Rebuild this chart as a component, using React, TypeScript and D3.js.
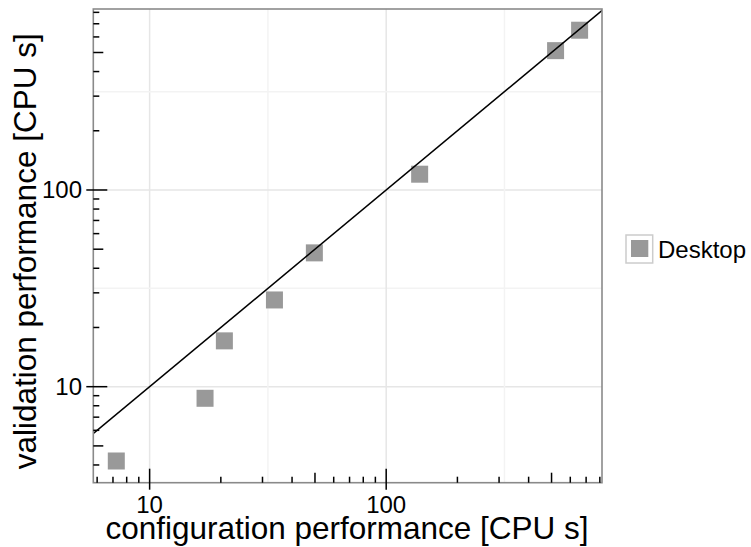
import React from "react";
import * as d3 from "d3";

const configPerf = [7.23, 17.15, 20.7, 33.7, 49.7, 138.5, 520, 657];
const validPerf = [4.19, 8.73, 17.1, 27.6, 47.9, 120.3, 511, 649];
const seriesName = "Desktop";
const majorTicks = [10, 100];
const gridValues = [10, Math.pow(10, 1.5), 100, Math.pow(10, 2.5)];
const xMinorTicks = [6, 7, 8, 9, 20, 30, 40, 50, 60, 70, 80, 90, 200, 300, 400, 500, 600, 700, 800];
const yMinorTicks = [4, 5, 6, 7, 8, 9, 20, 30, 40, 50, 60, 70, 80, 90, 200, 300, 400, 500, 600, 700, 800];
const xDomain = [5.78, 817];
const yDomain = [3.25, 832];
const xTitle = "configuration performance [CPU s]";
const yTitle = "validation performance [CPU s]";

const W = 751;
const H = 547;
const L = 93.3, R = 602, T = 9, B = 482.7;
const FONT = "'Liberation Sans', Arial, Helvetica, sans-serif";

export default function App() {
  const x = d3.scaleLog().domain(xDomain).range([L, R]);
  const y = d3.scaleLog().domain(yDomain).range([B, T]);
  const isMid = (v: number) => v === 50 || v === 500 || v === 5;
  const diag = d3.line<number>().x((v) => x(v)).y((v) => y(v));
  const diagVals = [Math.min(xDomain[0], yDomain[0]), Math.max(xDomain[1], yDomain[1])];
  const ms = 17;
  return (
    <svg width={W} height={H} style={{ position: "absolute", left: 0, top: 0, background: "#fff" }} fontFamily={FONT}>
      <defs>
        <clipPath id="plot">
          <rect x={L} y={T} width={R - L} height={B - T} />
        </clipPath>
      </defs>
      {gridValues.map((v, i) => (
        <g key={"g" + i}>
          <line x1={x(v)} x2={x(v)} y1={T} y2={B} stroke={i % 2 === 0 ? "#e6e6e6" : "#f3f3f3"} strokeWidth={1.5} />
          <line x1={L} x2={R} y1={y(v)} y2={y(v)} stroke={i % 2 === 0 ? "#e6e6e6" : "#f3f3f3"} strokeWidth={1.5} />
        </g>
      ))}
      <g clipPath="url(#plot)">
        {configPerf.map((c, i) => (
          <rect key={"m" + i} x={x(c) - ms / 2} y={y(validPerf[i]) - ms / 2} width={ms} height={ms} fill="#999999" />
        ))}
        <path d={diag(diagVals) || ""} stroke="#000" strokeWidth={1.5} fill="none" />
      </g>
      <rect x={L} y={T} width={R - L} height={B - T} fill="none" stroke="#8a8a8a" strokeWidth={1.6} />
      {xMinorTicks.map((v) => (
        <line key={"xt" + v} x1={x(v)} x2={x(v)} y1={B} y2={B - (isMid(v) ? 10 : 6)} stroke="#000" strokeWidth={1.5} />
      ))}
      {yMinorTicks.map((v) => (
        <line key={"yt" + v} x1={L} x2={L + (isMid(v) ? 10 : 6)} y1={y(v)} y2={y(v)} stroke="#000" strokeWidth={1.5} />
      ))}
      {majorTicks.map((v) => (
        <g key={"mj" + v}>
          <line x1={x(v)} x2={x(v)} y1={B + 7} y2={B - 14} stroke="#000" strokeWidth={1.5} />
          <line x1={L - 7} x2={L + 14} y1={y(v)} y2={y(v)} stroke="#000" strokeWidth={1.5} />
          <text x={x(v)} y={512.5} textAnchor="middle" fontSize={24} fill="#000">{v}</text>
          <text x={82} y={y(v) + 8.5} textAnchor="end" fontSize={24} fill="#000">{v}</text>
        </g>
      ))}
      <text x={347} y={539} textAnchor="middle" fontSize={31.5} fill="#000">{xTitle}</text>
      <text transform={`translate(36,251.3) rotate(-90)`} textAnchor="middle" fontSize={31.5} fill="#000">{yTitle}</text>
      <rect x={626} y={235} width={26.7} height={28} fill="#fff" stroke="#cccccc" strokeWidth={1.5} />
      <rect x={631} y={240} width={17.3} height={17} fill="#999999" />
      <text x={658} y={257.5} fontSize={24} fill="#000">{seriesName}</text>
    </svg>
  );
}
